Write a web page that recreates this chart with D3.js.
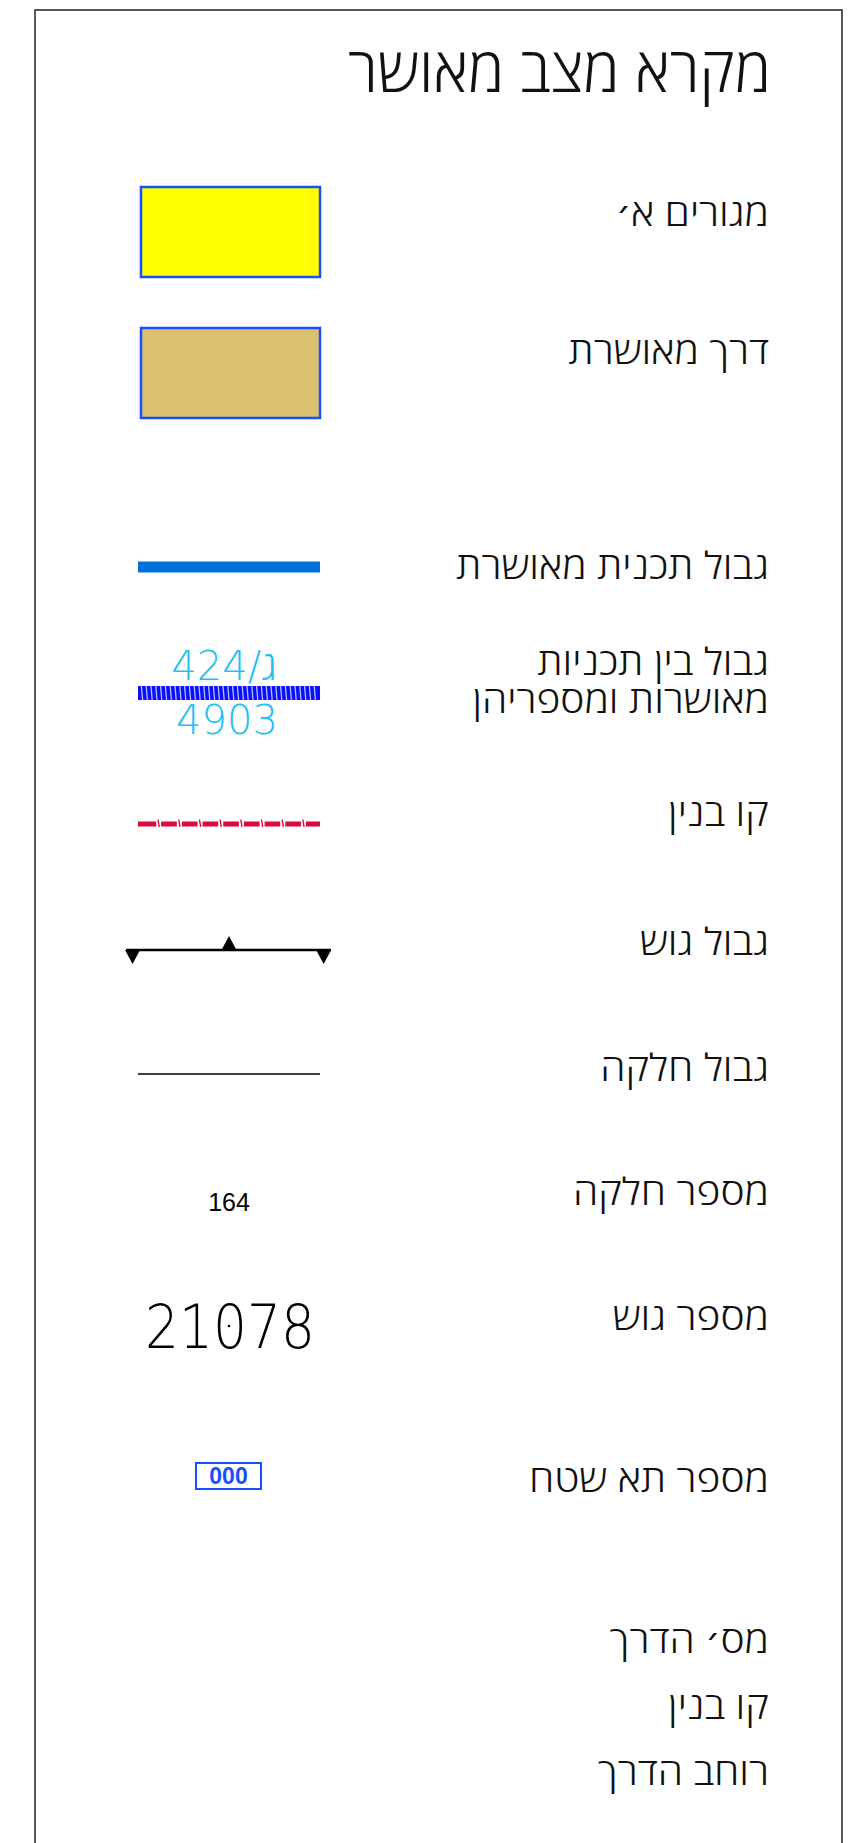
<!DOCTYPE html>
<html lang="he">
<head>
<meta charset="utf-8">
<script src="https://cdn.jsdelivr.net/npm/d3@7"></script>
<style>
  html, body { margin: 0; padding: 0; background: #fff; }
  svg { display: block; }
</style>
</head>
<body>
<svg id="chart"></svg>
<script>
'use strict'

// legend content
const title = 'מקרא מצב מאושר'

const labels = [
  ['מגורים א׳'],
  ['דרך מאושרת'],
  ['גבול תכנית מאושרת'],
  ['גבול בין תכניות', 'מאושרות ומספריהן'],
  ['קו בנין'],
  ['גבול גוש'],
  ['גבול חלקה'],
  ['מספר חלקה'],
  ['מספר גוש'],
  ['מספר תא שטח'],
  ['מס׳ הדרך'],
  ['קו בנין'],
  ['רוחב הדרך']
]

const symbols = [
  'residential',
  'road',
  'planBorder',
  'planSplit',
  'buildLine',
  'blockBorder',
  'parcelBorder',
  'parcelNo',
  'blockNo',
  'cellNo',
  null,
  null,
  null
]

const planNumbers = [['424/', 'ג'], ['4903', '']]
const parcelNumber = '164'
const blockNumber = '21078'
const cellNumber = '000'

// layout (pixels)
const width = 849,
  height = 1843

const frame = { left: 35, top: 10, right: 842 }
const labelRight = 769
const rowBaseline = [226, 364, 579, 675, 826, 955, 1081, 1205, 1330, 1492, 1653, 1719, 1785]
const symbolMid = [232, 373, 567, 693, 824, 950, 1074, 1202, 1326, 1476]
const lineGap = 38

const hebFont = "'Open Sans', 'DejaVu Sans Condensed', sans-serif"
const thinFont = "'DejaVu Sans', sans-serif"

const svg = d3.select('#chart')
  .attr('width', width)
  .attr('height', height)

// symbol column runs along this scale
const x = d3.scaleLinear().domain([0, 1]).range([138, 320])

const drawSymbol = {
  residential: (g, cy) => symbolRect(g, cy, '#ffff00'),
  road: (g, cy) => symbolRect(g, cy, '#dcc070'),

  planBorder: (g, cy) => {
    g.append('line')
      .attr('x1', x(0)).attr('x2', x(1))
      .attr('y1', cy).attr('y2', cy)
      .attr('stroke', '#0070dd')
      .attr('stroke-width', 11)
  },

  planSplit: (g, cy) => {
    g.append('rect')
      .attr('x', x(0))
      .attr('y', cy - 7)
      .attr('width', x(1) - x(0))
      .attr('height', 14)
      .attr('fill', '#0a10ff')
    g.selectAll('line.gap')
      .data(d3.range(x(0) + 4, x(1) - 1, 4.8))
      .enter()
      .append('line')
      .attr('class', 'gap')
      .attr('x1', d => d - 0.6).attr('x2', d => d + 0.6)
      .attr('y1', cy - 7).attr('y2', cy + 7)
      .attr('stroke', '#b8c0ff')
      .attr('stroke-width', 1.3)
    const t = g.selectAll('text')
      .data(planNumbers)
      .enter()
      .append('text')
      .attr('x', (d, j) => j === 0 ? 224 : 227)
      .attr('y', (d, j) => j === 0 ? cy - 13 : cy + 41)
      .attr('text-anchor', 'middle')
      .attr('direction', 'ltr')
      .style('font-size', '40px')
      .attr('fill', '#1ec0f5')
    t.append('tspan')
      .style('font-family', thinFont)
      .style('font-weight', 200)
      .text(d => d[0])
    t.append('tspan')
      .style('font-family', hebFont)
      .style('font-weight', 300)
      .text(d => d[1])
  },

  buildLine: (g, cy) => {
    g.append('line')
      .attr('x1', x(0)).attr('x2', x(1))
      .attr('y1', cy).attr('y2', cy)
      .attr('stroke', '#dc0a3c')
      .attr('stroke-width', 5)
    const ticks = d3.range(1, 9).map(k => x(0) + k * (x(1) - x(0)) / 8.8)
    g.selectAll('line.gap')
      .data(ticks)
      .enter()
      .append('line')
      .attr('class', 'gap')
      .attr('x1', d => d).attr('x2', d => d)
      .attr('y1', cy - 3).attr('y2', cy + 3)
      .attr('stroke', '#fff')
      .attr('stroke-width', 5)
    g.selectAll('line.tick')
      .data(ticks)
      .enter()
      .append('line')
      .attr('class', 'tick')
      .attr('x1', d => d - 0.6).attr('x2', d => d + 0.6)
      .attr('y1', cy - 4.5).attr('y2', cy + 3)
      .attr('stroke', '#dc0a3c')
      .attr('stroke-width', 1.4)
  },

  blockBorder: (g, cy) => {
    g.append('line')
      .attr('x1', x(-0.065)).attr('x2', x(1.06))
      .attr('y1', cy).attr('y2', cy)
      .attr('stroke', '#000')
      .attr('stroke-width', 2.5)
    const tri = [
      { at: -0.03, dir: 1 },
      { at: 0.5, dir: -1 },
      { at: 1.02, dir: 1 }
    ]
    g.selectAll('path')
      .data(tri)
      .enter()
      .append('path')
      .attr('d', d => {
        const cx = x(d.at)
        return `M${cx - 7.5},${cy}L${cx + 7.5},${cy}L${cx},${cy + d.dir * 14}Z`
      })
      .attr('fill', '#000')
  },

  parcelBorder: (g, cy) => {
    g.append('line')
      .attr('x1', x(0)).attr('x2', x(1))
      .attr('y1', cy).attr('y2', cy)
      .attr('stroke', '#000')
      .attr('stroke-width', 1.4)
  },

  parcelNo: (g, cy) => {
    g.append('text')
      .attr('x', x(0.5))
      .attr('y', cy + 9)
      .attr('text-anchor', 'middle')
      .style('font-family', "'Liberation Sans', Arial, sans-serif")
      .style('font-size', '25px')
      .attr('fill', '#000')
      .text(parcelNumber)
  },

  blockNo: (g, cy) => {
    g.append('text')
      .attr('transform', `translate(${x(0.5) + 1},${cy + 22}) scale(0.89,1)`)
      .attr('text-anchor', 'middle')
      .style('font-family', thinFont)
      .style('font-size', '60px')
      .style('font-weight', 200)
      .attr('fill', '#000')
      .text(blockNumber)
    g.append('circle')
      .attr('cx', x(0.5)).attr('cy', cy)
      .attr('r', 1.3)
      .attr('fill', '#000')
  },

  cellNo: (g, cy) => {
    g.append('rect')
      .attr('x', 196)
      .attr('y', cy - 13)
      .attr('width', 65)
      .attr('height', 26)
      .attr('fill', 'none')
      .attr('stroke', '#1a4dff')
      .attr('stroke-width', 2)
    g.append('text')
      .attr('x', 228.5)
      .attr('y', cy + 8)
      .attr('text-anchor', 'middle')
      .style('font-family', "'Liberation Sans', Arial, sans-serif")
      .style('font-size', '23px')
      .style('font-weight', 900)
      .attr('fill', '#1a4dff')
      .text(cellNumber)
  }
}

function symbolRect(g, cy, fill) {
  g.append('rect')
    .attr('x', x(0) + 3)
    .attr('y', cy - 45)
    .attr('width', x(1) - x(0) - 3)
    .attr('height', 90)
    .attr('fill', fill)
    .attr('stroke', '#1a4dff')
    .attr('stroke-width', 2.5)
}

svg.append('path')
  .attr('d', `M${frame.left},${height + 5}V${frame.top}H${frame.right}V${height + 5}`)
  .attr('fill', 'none')
  .attr('stroke', '#222')
  .attr('stroke-width', 1.5)

svg.append('text')
  .attr('transform', `translate(${labelRight + 2},92) scale(0.96,1)`)
  .attr('direction', 'rtl')
  .attr('text-anchor', 'start')
  .style('font-family', hebFont)
  .style('font-size', '63px')
  .style('font-weight', 300)
  .attr('fill', '#111')
  .text(title)

// labels: one text per row, extra lines as tspans
svg.selectAll('text.label')
  .data(labels)
  .enter()
  .append('text')
  .attr('class', 'label')
  .attr('transform', (d, i) => `translate(${labelRight},${rowBaseline[i]}) scale(1.1,1)`)
  .attr('direction', 'rtl')
  .attr('text-anchor', 'start')
  .style('font-family', hebFont)
  .style('font-size', '37px')
  .style('font-weight', 300)
  .attr('fill', '#111')
  .each(function (lines) {
    d3.select(this).selectAll('tspan')
      .data(lines)
      .enter()
      .append('tspan')
      .attr('x', 0)
      .attr('y', (d, j) => j * lineGap)
      .text(d => d)
  })

// symbols
symbols.forEach((type, i) => {
  if (!type) return
  const g = svg.append('g').attr('class', 'symbol ' + type)
  drawSymbol[type](g, symbolMid[i])
})
</script>
</body>
</html>
